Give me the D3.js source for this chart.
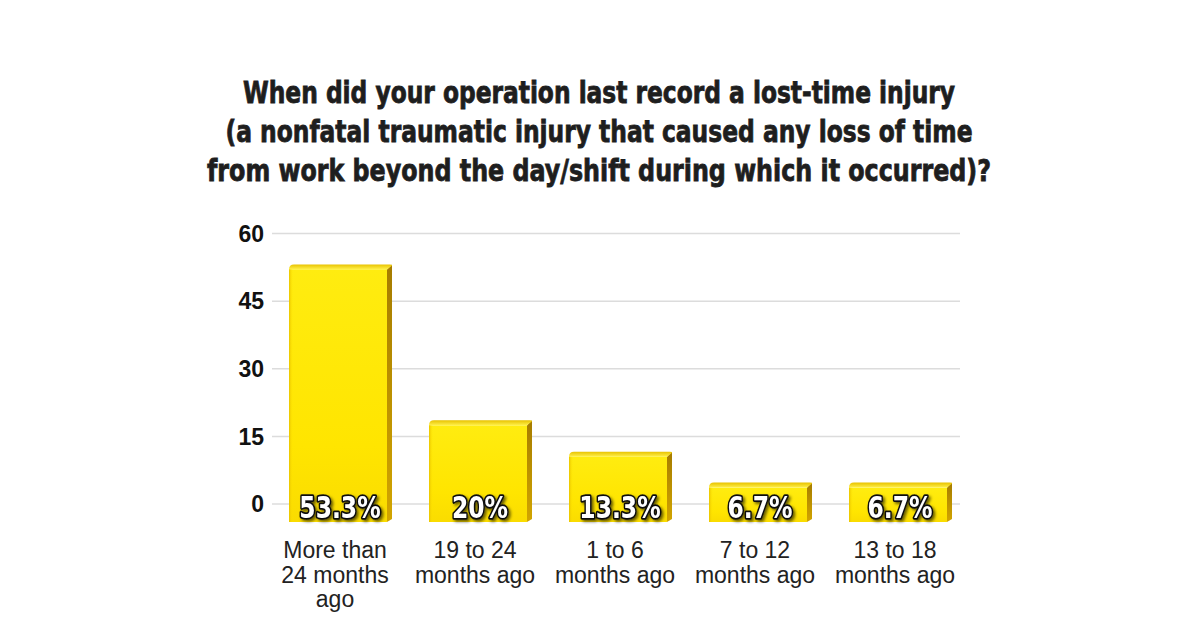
<!DOCTYPE html>
<html>
<head>
<meta charset="utf-8"/>
<title>Lost-time injury</title>
<style>
  body { margin: 0; background: #fff; }
  svg { display: block; }
</style>
</head>
<body>
<div id="graph"></div>
<script src="https://cdn.jsdelivr.net/npm/d3@7"></script>
<script>
    // data
    var categories = ["More than 24 months ago", "19 to 24 months ago", "1 to 6 months ago", "7 to 12 months ago", "13 to 18 months ago"];
    var labelLines = [["More than", "24 months", "ago"], ["19 to 24", "months ago"], ["1 to 6", "months ago"], ["7 to 12", "months ago"], ["13 to 18", "months ago"]];
    var values = [53.3, 20, 13.3, 6.7, 6.7];
    var yTicks = [0, 15, 30, 45, 60];
    var titleLines = [
      "When did your operation last record a lost-time injury",
      "(a nonfatal traumatic injury that caused any loss of time",
      "from work beyond the day/shift during which it occurred)?"
    ];

    var width = 1200, height = 628;
    var condensed = "'Liberation Sans Narrow', 'Arial Narrow', 'DejaVu Sans Condensed', sans-serif";
    var plain = "'Liberation Sans', Arial, Helvetica, sans-serif";

    var svg = d3.select("#graph").append("svg")
                .attr("width", width)
                .attr("height", height);

    var defs = svg.append("defs");
    var front = defs.append("linearGradient").attr("id", "front")
        .attr("x1", 0).attr("y1", 0).attr("x2", 0).attr("y2", 1);
    front.append("stop").attr("offset", "0%").attr("stop-color", "#ffec10");
    front.append("stop").attr("offset", "70%").attr("stop-color", "#ffe500");
    front.append("stop").attr("offset", "100%").attr("stop-color", "#fadc00");
    var edge = defs.append("linearGradient").attr("id", "edge")
        .attr("x1", 0).attr("y1", 0).attr("x2", 1).attr("y2", 0);
    edge.append("stop").attr("offset", "0%").attr("stop-color", "#e9c400");
    edge.append("stop").attr("offset", "100%").attr("stop-color", "#ffe400").attr("stop-opacity", 0);
    var side = defs.append("linearGradient").attr("id", "side")
        .attr("x1", 0).attr("y1", 0).attr("x2", 0).attr("y2", 1);
    side.append("stop").attr("offset", "0%").attr("stop-color", "#a67c00");
    side.append("stop").attr("offset", "100%").attr("stop-color", "#d2a500");
    var topg = defs.append("linearGradient").attr("id", "topface")
        .attr("x1", 0).attr("y1", 0).attr("x2", 0).attr("y2", 1);
    topg.append("stop").attr("offset", "0%").attr("stop-color", "#e8c200");
    topg.append("stop").attr("offset", "100%").attr("stop-color", "#fff04a");

    var shadow = defs.append("filter").attr("id", "shadow")
        .attr("x", "-20%").attr("y", "-20%").attr("width", "140%").attr("height", "160%");
    shadow.append("feDropShadow").attr("dx", 2).attr("dy", 2).attr("stdDeviation", 1.5)
        .attr("flood-color", "#000").attr("flood-opacity", 0.6);

    // title - squeezed to the widths in the picture
    var titleWidths = [712, 747, 784];
    svg.append("g").selectAll("text")
        .data(titleLines).enter().append("text")
        .attr("x", 599)
        .attr("y", function(d, i) { return 103 + i * 39; })
        .attr("text-anchor", "middle")
        .attr("textLength", function(d, i) { return titleWidths[i]; })
        .attr("lengthAdjust", "spacingAndGlyphs")
        .style("font-family", condensed)
        .style("font-weight", "bold")
        .style("font-size", "31px")
        .style("fill", "#1e1e1e")
        .style("stroke", "#1e1e1e")
        .style("stroke-width", 0.8)
        .text(function(d) { return d; });

    // scales
    var x = d3.scaleBand()
          .domain(categories)
          .range([268, 968])
          .paddingInner(0.3)
          .paddingOuter(0.15);
    var y = d3.scaleLinear()
          .domain([0, 60])
          .range([503.5, 233]);
    // the bars in the picture sit on a lower baseline than the axis zero
    var barY = d3.scaleLinear()
          .domain([0, 60])
          .range([514, 233]);
    var barBottom = 522, depth = 5;

    // grid + axis
    var axis = svg.append("g")
        .attr("transform", "translate(272,0)")
        .call(d3.axisLeft(y).tickValues(yTicks).tickSize(-(960 - 272)).tickPadding(8));
    axis.select(".domain").remove();
    axis.selectAll(".tick line").attr("stroke", "#dcdcdc").attr("stroke-width", 1.5);
    axis.selectAll(".tick text")
        .attr("dy", "0.36em")
        .style("font-family", plain)
        .style("font-weight", "bold")
        .style("font-size", "23px")
        .style("fill", "#111");

    var data = categories.map(function(c, i) { return {cat: c, value: values[i], lines: labelLines[i]}; });

    var bars = svg.append("g").selectAll("g.bar")
        .data(data).enter().append("g")
        .attr("class", "bar");

    bars.append("path")
        .attr("d", function(d) {
          var x0 = x(d.cat), x1 = x0 + x.bandwidth(), t = barY(d.value);
          return "M" + x1 + "," + (t + depth) + "L" + (x1 + depth) + "," + t +
                 "L" + (x1 + depth) + "," + (barBottom - 3) + "L" + x1 + "," + barBottom + "Z";
        })
        .attr("fill", "url(#side)");
    bars.append("path")
        .attr("d", function(d) {
          var x0 = x(d.cat), x1 = x0 + x.bandwidth(), t = barY(d.value);
          return "M" + x0 + "," + (t + depth) + "Q" + x0 + "," + t + " " + (x0 + depth) + "," + t +
                 "L" + (x1 + depth - 2) + "," + t + "Q" + (x1 + depth) + "," + t + " " + (x1 + depth) + "," + (t + 1) +
                 "L" + x1 + "," + (t + depth) + "Z";
        })
        .attr("fill", "url(#topface)");
    bars.append("rect")
        .attr("x", function(d) { return x(d.cat); })
        .attr("y", function(d) { return barY(d.value) + depth; })
        .attr("width", x.bandwidth())
        .attr("height", function(d) { return barBottom - barY(d.value) - depth; })
        .attr("fill", "url(#front)");
    bars.append("rect")
        .attr("x", function(d) { return x(d.cat); })
        .attr("y", function(d) { return barY(d.value) + depth; })
        .attr("width", 4)
        .attr("height", function(d) { return barBottom - barY(d.value) - depth; })
        .attr("fill", "url(#edge)");

    // value labels, condensed a bit like the original lettering
    bars.append("text")
        .attr("x", function(d) { return x(d.cat) + x.bandwidth() / 2 + 2; })
        .attr("y", 518)
        .attr("text-anchor", "middle")
        .attr("filter", "url(#shadow)")
        .style("font-family", condensed)
        .style("font-weight", "bold")
        .style("font-size", "31px")
        .style("fill", "#fff")
        .style("stroke", "#111")
        .style("stroke-width", 3.5)
        .style("stroke-linejoin", "round")
        .style("paint-order", "stroke")
        .text(function(d) { return d.value + "%"; })
        .each(function() {
          var len = this.getComputedTextLength();
          d3.select(this).attr("textLength", len * 0.84).attr("lengthAdjust", "spacingAndGlyphs");
        });

    // category labels
    var cats = svg.append("g").selectAll("text")
        .data(data).enter().append("text")
        .attr("text-anchor", "middle")
        .style("font-family", plain)
        .style("font-size", "23px")
        .style("fill", "#222");
    cats.selectAll("tspan")
        .data(function(d) { return d.lines.map(function(l) { return {line: l, cx: x(d.cat) + x.bandwidth() / 2 - 3}; }); })
        .enter().append("tspan")
        .attr("x", function(d) { return d.cx; })
        .attr("y", function(d, i) { return 558 + i * 24.5; })
        .text(function(d) { return d.line; });
</script>
</body>
</html>
